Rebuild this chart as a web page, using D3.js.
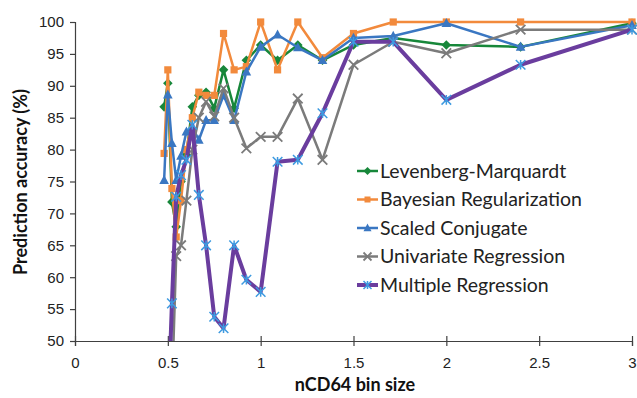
<!DOCTYPE html>
<html>
<head>
<meta charset="utf-8">
<script src="https://cdn.jsdelivr.net/npm/d3@7"></script>
<style>
  body { margin: 0; background: #fff; }
  svg { font-family: Lato, "Open Sans", sans-serif; }
</style>
</head>
<body>
<svg id="chart" width="637" height="398"></svg>
<script>
// bin sizes (x) shared by every series
const binSizes = [0.48, 0.5, 0.522, 0.545, 0.571, 0.6, 0.632, 0.667, 0.706, 0.75, 0.8,
                  0.857, 0.923, 1.0, 1.091, 1.2, 1.333, 1.5, 1.714, 2.0, 2.4, 3.0];

const levenbergMarquardt = [86.7, 90.4, 71.8, 67.9, 75, 79.2, 86.7, 88.5, 89, 86.5, 92.5,
                            86.5, 94, 96.4, 94, 96.4, 94, 96.4, 97.5, 96.4, 96.1, 99.8];
const bayesianReg       = [79.4, 92.5, 73.9, 66.3, 72, 80, 85, 89, 88.5, 88.5, 98.2,
                            92.5, 93, 100, 92.5, 100, 94.4, 98.2, 100, 100, 100, 100];
const scaledConjugate   = [75.2, 88.6, 81, 75.2, 79, 82.8, 83.5, 81.5, 84.6, 84.6, 88.5,
                            84.6, 92.2, 96.1, 98, 96, 94, 97.5, 97.8, 99.8, 96.1, 99.5];
const univariateReg     = [38, 40, 42, 63.3, 65, 72, 80, 85, 87.5, 85.2, 89.6,
                            85, 80.2, 82, 82, 88, 78.4, 93.3, 96.9, 95.1, 98.8, 98.8];
const multipleReg       = [35, 38, 55.9, 72.6, 76, 78.4, 83.9, 72.9, 65, 53.8, 52,
                            65, 59.6, 57.7, 78.1, 78.4, 85.7, 96.9, 96.9, 87.8, 93.3, 98.8];

const seriesNames = ['Levenberg-Marquardt', 'Bayesian Regularization', 'Scaled Conjugate',
                     'Univariate Regression', 'Multiple Regression'];
const xTicks = [0, 0.5, 1, 1.5, 2, 2.5, 3];
const yTicks = [50, 55, 60, 65, 70, 75, 80, 85, 90, 95, 100];

const series = [
    {name: seriesNames[0], values: levenbergMarquardt, color: '#17873a', marker: 'diamond', width: 2.5},
    {name: seriesNames[1], values: bayesianReg, color: '#f28a3c', marker: 'square', width: 2.5},
    {name: seriesNames[2], values: scaledConjugate, color: '#3a77c2', marker: 'triangle', width: 2.5},
    {name: seriesNames[3], values: univariateReg, color: '#7b7b7b', marker: 'cross', width: 2.5},
    {name: seriesNames[4], values: multipleReg, color: '#6a3d9e', marker: 'star', width: 4}
];

function translate(x, y) {
    return `translate(${x},${y})`;
}

let svg = d3.select('#chart');
let mLeft = 75, mRight = 632, mTop = 22, mBottom = 341;

let x = d3.scaleLinear().domain([0, 3]).range([mLeft, mRight]);
let y = d3.scaleLinear().domain([50, 100]).range([mBottom, mTop]);

svg.append('defs').append('clipPath').attr('id', 'plotClip')
    .append('rect')
    .attr('x', mLeft - 10).attr('y', mTop - 10)
    .attr('width', mRight - mLeft + 20).attr('height', mBottom - mTop + 10);

// axes
let yAxis = svg.append('g')
    .attr('transform', translate(mLeft, 0))
    .call(d3.axisLeft(y).tickValues(yTicks).tickSize(5).tickPadding(6));
let xAxis = svg.append('g')
    .attr('transform', translate(0, mBottom))
    .call(d3.axisBottom(x).tickValues(xTicks).tickSize(5).tickPadding(11)
        .tickFormat(d => d3.format('')(d)));

[xAxis, yAxis].forEach(a => {
    a.select('.domain').attr('stroke', '#404040').attr('stroke-width', 1.2);
    a.selectAll('.tick line').attr('stroke', '#404040').attr('stroke-width', 1.2);
    a.selectAll('.tick text').attr('fill', '#222').style('font-size', '15px');
});
// x ticks cross the axis
xAxis.selectAll('.tick line').attr('y1', -5).attr('y2', 5);

svg.append('text')
    .attr('transform', translate(27, 182) + ' rotate(-90)')
    .attr('text-anchor', 'middle')
    .style('font-size', '18px').style('font-weight', 'bold')
    .attr('fill', '#111')
    .text('Prediction accuracy (%)');

svg.append('text')
    .attr('x', 355).attr('y', 391)
    .attr('text-anchor', 'middle')
    .style('font-size', '18px').style('font-weight', 'bold')
    .attr('fill', '#111')
    .text('nCD64 bin size');

function drawMarker(sel, kind, color, s) {
    if (kind === 'diamond') {
        sel.append('path').attr('d', `M0,${-s}L${s},0L0,${s}L${-s},0Z`).attr('fill', color);
    } else if (kind === 'square') {
        sel.append('rect').attr('x', -s * 0.75).attr('y', -s * 0.75)
            .attr('width', s * 1.5).attr('height', s * 1.5).attr('fill', color);
    } else if (kind === 'triangle') {
        sel.append('path').attr('d', `M0,${-s * 1.1}L${s},${s * 0.8}L${-s},${s * 0.8}Z`).attr('fill', color);
    } else if (kind === 'cross') {
        sel.append('path').attr('d', `M${-s},${-s}L${s},${s}M${-s},${s}L${s},${-s}`)
            .attr('stroke', color).attr('stroke-width', 1.8).attr('fill', 'none');
    } else if (kind === 'star') {
        sel.append('path')
            .attr('d', `M${-s},${-s}L${s},${s}M${-s},${s}L${s},${-s}M0,${-s}L0,${s}`)
            .attr('stroke', '#3d9ae0').attr('stroke-width', 1.5).attr('fill', 'none');
    }
}

let plot = svg.append('g').attr('clip-path', 'url(#plotClip)');

let line = d3.line()
    .x((d, i) => x(binSizes[i]))
    .y(d => y(d));

series.forEach(s => {
    let g = plot.append('g');
    g.append('path')
        .attr('d', line(s.values))
        .attr('fill', 'none')
        .attr('stroke', s.color)
        .attr('stroke-width', s.width)
        .attr('stroke-linejoin', 'round');

    g.selectAll('g.pt')
        .data(s.values.map((v, i) => [binSizes[i], v]).filter(d => d[1] >= 50))
        .enter()
        .append('g')
        .attr('class', 'pt')
        .attr('transform', d => translate(x(d[0]), y(d[1])))
        .each(function() { drawMarker(d3.select(this), s.marker, s.color, 4.8); });
});

// legend
let legend = svg.append('g').attr('transform', translate(357, 171));
series.forEach((s, i) => {
    let row = legend.append('g').attr('transform', translate(0, i * 28.5));
    row.append('line')
        .attr('x1', 0).attr('x2', 21)
        .attr('stroke', s.color).attr('stroke-width', s.width);
    drawMarker(row.append('g').attr('transform', translate(10.5, 0)), s.marker, s.color, 4);
    row.append('text')
        .attr('x', 23).attr('dy', '0.35em')
        .style('font-size', '19.5px')
        .attr('fill', '#222')
        .text(s.name);
});
</script>
</body>
</html>
